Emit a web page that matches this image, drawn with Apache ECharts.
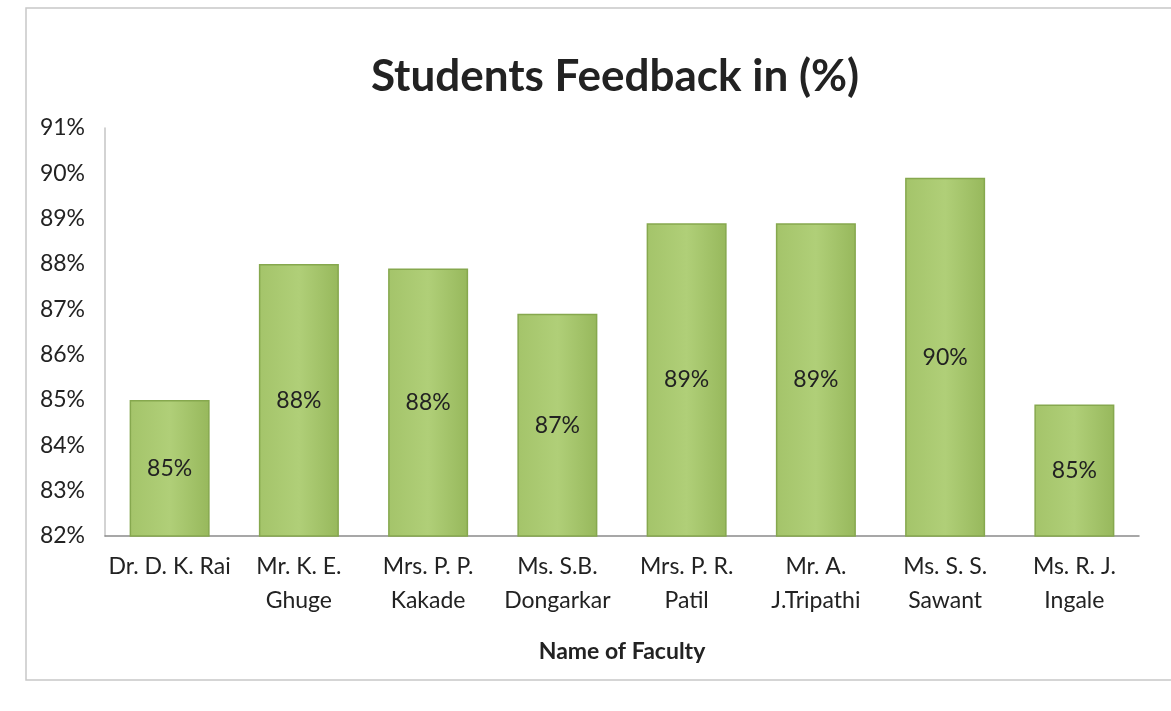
<!DOCTYPE html>
<html>
<head>
<meta charset="utf-8">
<script src="https://cdn.jsdelivr.net/npm/echarts@6/dist/echarts.min.js"></script>
<style>
    html, body { margin: 0; padding: 0; background: #fff; }
    #chart { width: 1171px; height: 711px; }
</style>
</head>
<body>
<div id="chart"></div>
<script>
const faculty = [
    "Dr. D. K. Rai",
    "Mr. K. E.\nGhuge",
    "Mrs. P. P.\nKakade",
    "Ms. S.B.\nDongarkar",
    "Mrs. P. R.\nPatil",
    "Mr. A.\nJ.Tripathi",
    "Ms. S. S.\nSawant",
    "Ms. R. J.\nIngale",
]
const feedback = [85.0, 88.0, 87.9, 86.9, 88.9, 88.9, 89.9, 84.9]
const yTicks = [82, 83, 84, 85, 86, 87, 88, 89, 90, 91]

const font = "Lato, 'Open Sans', sans-serif"

var myChart = echarts.init(document.getElementById("chart"))
myChart.setOption({
    animation: false,
    title: {
        text: "Students Feedback in (%)",
        left: 610,
        top: 50,
        textAlign: "center",
        textStyle: { fontFamily: font, fontSize: 44, fontWeight: "bold", color: "#222" },
    },
    graphic: [
        {
            type: "rect",
            shape: { x: 26, y: 8, width: 1160, height: 672 },
            style: { fill: "none", stroke: "#c8c8c8", lineWidth: 1.5 },
            silent: true,
        },
    ],
    grid: { left: 105, right: 32, top: 128, bottom: 175 },
    xAxis: {
        type: "category",
        data: faculty,
        name: "Name of Faculty",
        nameLocation: "middle",
        nameGap: 104,
        nameTextStyle: { fontFamily: font, fontSize: 23, fontWeight: "bold", color: "#222" },
        axisLine: { lineStyle: { color: "#8a8a8a", width: 1.5 } },
        axisTick: { show: false },
        axisLabel: { fontFamily: font, fontSize: 23, color: "#222", margin: 14, lineHeight: 34, interval: 0 },
    },
    yAxis: {
        type: "value",
        min: yTicks[0],
        max: yTicks[yTicks.length - 1],
        interval: 1,
        axisLine: { show: true, lineStyle: { color: "#c4c4c4", width: 1.5 } },
        axisTick: { show: false },
        splitLine: { show: false },
        axisLabel: { fontFamily: font, fontSize: 23, color: "#222", margin: 20, formatter: "{value}%" },
    },
    series: [
        {
            type: "bar",
            data: feedback,
            barWidth: 80,
            itemStyle: {
                color: new echarts.graphic.LinearGradient(0, 0, 1, 0, [
                    { offset: 0, color: "#a4c46a" },
                    { offset: 0.5, color: "#b0cf78" },
                    { offset: 1, color: "#97b85c" },
                ]),
                borderColor: "#86a84e",
                borderWidth: 1.5,
            },
            label: {
                show: true,
                position: "inside",
                fontFamily: font,
                fontSize: 23,
                color: "#222",
                formatter: (p) => Math.round(p.value) + "%",
            },
        },
    ],
})
</script>
</body>
</html>
